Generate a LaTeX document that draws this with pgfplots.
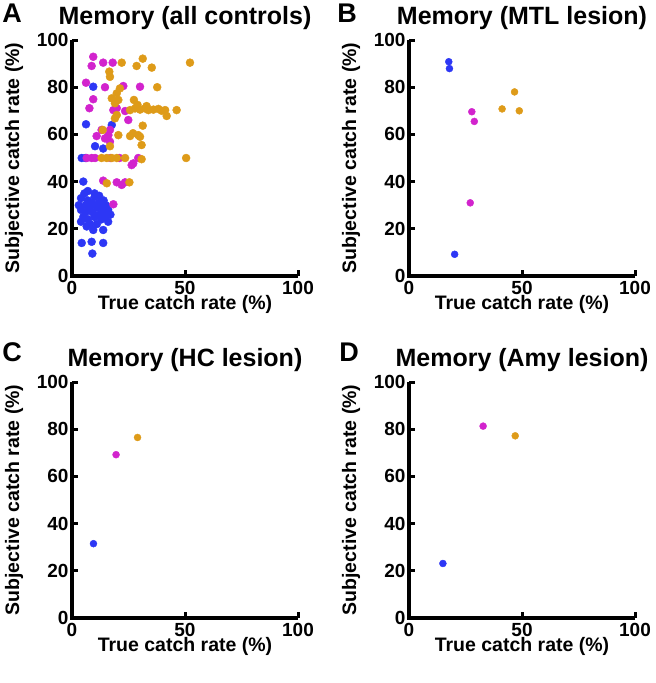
\documentclass[border=0pt]{standalone}
\usepackage{fontspec}
\setmainfont{Liberation Sans}
\usepackage{pgfplots}
\pgfplotsset{compat=1.18}
\definecolor{cblue}{RGB}{45,55,245}
\definecolor{cmag}{RGB}{210,35,205}
\definecolor{corange}{RGB}{222,155,25}
\pgfplotsset{panel/.style={
  scale only axis, width=226pt, height=236pt,
  xmin=0,xmax=100,ymin=0,ymax=100,
  axis x line*=bottom, axis y line*=left,
  axis line style={-, black},
  xtick={0,50,100}, ytick={0,20,40,60,80,100},
  tick align=inside, major tick length=6pt, tick style={line width=3pt, black},
  /pgf/number format/assume math mode=true,
  tick label style={font=\fontsize{19}{19}\selectfont\bfseries},
  xticklabel style={yshift=-2pt},
  label style={font=\fontsize{19.5}{20}\selectfont\bfseries},
  xlabel={True catch rate (\%)}, ylabel={Subjective catch rate (\%)},
  xlabel style={at={(axis description cs:0.5,-0.122)}, anchor=center},
  ylabel style={at={(axis description cs:-0.2566,0.5)}, anchor=center},
  title style={font=\fontsize{25}{25}\selectfont\bfseries, at={(axis description cs:0.5,1.068)}, anchor=center},
  clip=false,
  every axis plot/.append style={only marks, mark=*, mark size=4pt},
  after end axis/.code={\draw[line width=3.6pt, line join=miter, line cap=butt, black]
     (axis description cs:0,1) -- (axis description cs:0,0) -- (axis description cs:1,0);},
}}
\begin{document}
\begin{tikzpicture}
\path[use as bounding box] (0pt,0pt) rectangle (656pt,-683pt);
% Panel A
\begin{axis}[panel, at={(72pt,-276pt)}, anchor=south west, title={Memory (all controls)}]
\addplot[cblue] coordinates {
(5,40)(5.5,35)(10,33.5)(4,33)(7,32)(9,31)(12,31)(14,32)(6,30)(8,29)(11,29)(13,29)(15,30)(16,28)(4,28)(6,27)(9,27)(12,26)(14,27)(17,26)(5,25)(7,24)(10,25)(13,24)(15,25)(16,23)(8,22)(11,22)(6.5,21)(9.4,19.5)(13.8,19.5)(4.3,14)(8.7,14.5)(13.8,14)(9,9.5)(10,35)(12,34)(7,36)(3,30)(4,23)(9.4,80.2)(6.2,64.3)(10.2,55)(13.8,54)(17.6,64)(4.3,50)(6,50)
};
\addplot[cmag] coordinates {
(9.4,92.9)(8.7,89)(13.8,90.4)(18,90.4)(6.2,81.9)(14.6,80)(22.7,80.5)(30.1,80.2)(9.4,74.9)(7.7,71.1)(18.3,70.3)(19.8,71.1)(23.5,69.9)(24.9,66.1)(13.1,61.9)(16.8,61.9)(16.1,59.7)(14.6,58.3)(16.8,56.9)(10.9,59.3)(6.5,50)(8.7,50)(10.2,50)(26.4,47)(29.3,50)(27.1,47.7)(13.8,40.4)(19.8,39.7)(22,38.6)(23.5,39.7)(18.3,30.4)(17,50)(21,50)
};
\addplot[corange] coordinates {
(22,90.4)(31.3,92.1)(28.6,89)(35.3,88.3)(52.2,90.4)(16.5,86.6)(16.8,84.4)(21.2,79.5)(37.7,80)(19.8,77.4)(17.6,75.3)(20.5,74.6)(19,73.2)(27.4,74.6)(25.7,70.3)(27.9,71)(30.1,70.5)(32.3,71)(33.8,70.3)(36,70.5)(38.2,70.8)(39.7,70)(41.2,70.3)(41.9,67.8)(46.3,70.3)(29,72.5)(33,72)(19.8,68.2)(19,66.8)(31.3,63.7)(13.6,61.9)(20.5,59.7)(25.7,59.3)(29.3,59.7)(30.1,59)(27,60.5)(16.8,55)(30.8,55.5)(13.1,50)(15.4,50)(17.6,50)(19.8,50)(23.5,50)(30.8,49.5)(50.5,50)(15.4,39.3)(25.4,39.7)
};
\end{axis}
% Panel B
\begin{axis}[panel, at={(409pt,-276pt)}, anchor=south west, title={Memory (MTL lesion)}]
\addplot[cblue, mark size=3.5pt] coordinates {(17.6,90.8)(17.9,87.9)(20.2,9.2)};
\addplot[cmag, mark size=3.5pt] coordinates {(27.8,69.6)(28.9,65.5)(27.1,31)};
\addplot[corange, mark size=3.5pt] coordinates {(46.7,78)(41.2,70.8)(48.8,70)};
\end{axis}
% Panel C
\begin{axis}[panel, at={(72pt,-618pt)}, anchor=south west, title={Memory (HC lesion)}]
\addplot[cblue, mark size=3.5pt] coordinates {(9.5,31.5)};
\addplot[cmag, mark size=3.5pt] coordinates {(19.5,69.2)};
\addplot[corange, mark size=3.5pt] coordinates {(29,76.5)};
\end{axis}
% Panel D
\begin{axis}[panel, at={(409pt,-618pt)}, anchor=south west, title={Memory (Amy lesion)}]
\addplot[cblue, mark size=3.5pt] coordinates {(15,23.1)};
\addplot[cmag, mark size=3.5pt] coordinates {(32.8,81.3)};
\addplot[corange, mark size=3.5pt] coordinates {(47,77.2)};
\end{axis}
\node[font=\fontsize{27}{27}\selectfont\bfseries] at (12pt,-13pt) {A};
\node[font=\fontsize{27}{27}\selectfont\bfseries] at (347pt,-13pt) {B};
\node[font=\fontsize{27}{27}\selectfont\bfseries] at (12pt,-352pt) {C};
\node[font=\fontsize{27}{27}\selectfont\bfseries] at (349pt,-352pt) {D};
\end{tikzpicture}
\end{document}
